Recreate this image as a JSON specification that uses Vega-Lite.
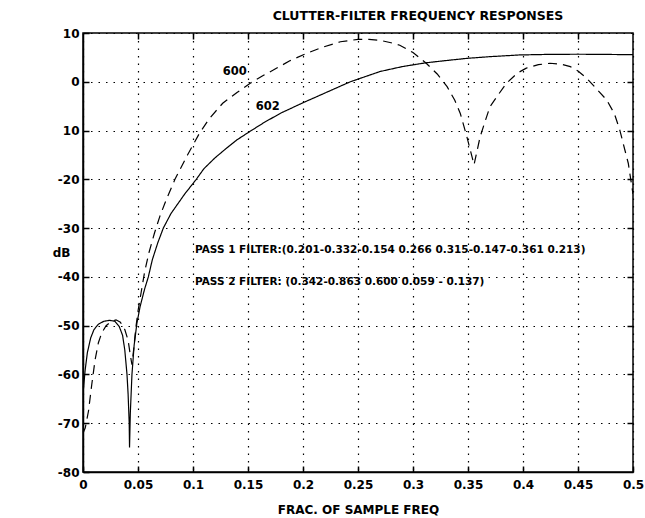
{
  "$schema": "https://vega.github.io/schema/vega-lite/v6.json",
  "width": 550,
  "height": 439,
  "autosize": {"type": "none"},
  "padding": {"left": 83, "top": 33, "right": 12, "bottom": 46},
  "background": "white",
  "config": {
    "view": {"stroke": "black", "strokeWidth": 1.5},
    "font": "DejaVu Sans",
    "axis": {
      "domainColor": "black", "domainWidth": 1.5,
      "tickColor": "black", "tickWidth": 1.5, "tickSize": -6,
      "labelColor": "black", "labelFont": "DejaVu Sans", "labelFontWeight": "bold", "labelFontSize": 12,
      "titleColor": "black", "titleFont": "DejaVu Sans", "titleFontWeight": "bold", "titleFontSize": 12,
      "gridColor": "black", "gridDash": [1.5, 6], "gridWidth": 1.2, "gridOpacity": 1
    }
  },
  "title": {
    "text": "CLUTTER-FILTER FREQUENCY RESPONSES",
    "font": "DejaVu Sans", "fontSize": 12.5, "fontWeight": "bold", "color": "black",
    "anchor": "middle", "dx": 60, "offset": 5
  },
  "datasets": {
    "curves": [
      {"f": 0.0, "db": -64, "s": "602"},
      {"f": 0.002, "db": -59, "s": "602"},
      {"f": 0.004, "db": -55.5, "s": "602"},
      {"f": 0.007, "db": -52.5, "s": "602"},
      {"f": 0.010, "db": -50.8, "s": "602"},
      {"f": 0.014, "db": -49.7, "s": "602"},
      {"f": 0.019, "db": -49.1, "s": "602"},
      {"f": 0.024, "db": -48.9, "s": "602"},
      {"f": 0.029, "db": -49.1, "s": "602"},
      {"f": 0.033, "db": -50.2, "s": "602"},
      {"f": 0.036, "db": -52, "s": "602"},
      {"f": 0.038, "db": -55, "s": "602"},
      {"f": 0.040, "db": -60, "s": "602"},
      {"f": 0.041, "db": -64, "s": "602"},
      {"f": 0.042, "db": -70, "s": "602"},
      {"f": 0.0423, "db": -75, "s": "602"},
      {"f": 0.043, "db": -68, "s": "602"},
      {"f": 0.0445, "db": -60, "s": "602"},
      {"f": 0.0465, "db": -54, "s": "602"},
      {"f": 0.049, "db": -49.5, "s": "602"},
      {"f": 0.052, "db": -46, "s": "602"},
      {"f": 0.056, "db": -42.5, "s": "602"},
      {"f": 0.0594, "db": -40, "s": "602"},
      {"f": 0.063, "db": -36.5, "s": "602"},
      {"f": 0.068, "db": -33, "s": "602"},
      {"f": 0.073, "db": -30, "s": "602"},
      {"f": 0.080, "db": -27, "s": "602"},
      {"f": 0.0925, "db": -23, "s": "602"},
      {"f": 0.103, "db": -20, "s": "602"},
      {"f": 0.110, "db": -17.8, "s": "602"},
      {"f": 0.120, "db": -15.6, "s": "602"},
      {"f": 0.130, "db": -13.7, "s": "602"},
      {"f": 0.140, "db": -11.9, "s": "602"},
      {"f": 0.153, "db": -10, "s": "602"},
      {"f": 0.165, "db": -8.3, "s": "602"},
      {"f": 0.180, "db": -6.4, "s": "602"},
      {"f": 0.200, "db": -4.3, "s": "602"},
      {"f": 0.220, "db": -2.3, "s": "602"},
      {"f": 0.243, "db": 0, "s": "602"},
      {"f": 0.270, "db": 2.1, "s": "602"},
      {"f": 0.290, "db": 3.1, "s": "602"},
      {"f": 0.312, "db": 3.9, "s": "602"},
      {"f": 0.330, "db": 4.35, "s": "602"},
      {"f": 0.349, "db": 4.8, "s": "602"},
      {"f": 0.370, "db": 5.15, "s": "602"},
      {"f": 0.397, "db": 5.5, "s": "602"},
      {"f": 0.420, "db": 5.6, "s": "602"},
      {"f": 0.450, "db": 5.65, "s": "602"},
      {"f": 0.480, "db": 5.6, "s": "602"},
      {"f": 0.500, "db": 5.55, "s": "602"},
      {"f": 0.0, "db": -72, "s": "600"},
      {"f": 0.002, "db": -71, "s": "600"},
      {"f": 0.005, "db": -67.5, "s": "600"},
      {"f": 0.008, "db": -62, "s": "600"},
      {"f": 0.011, "db": -57, "s": "600"},
      {"f": 0.014, "db": -53.5, "s": "600"},
      {"f": 0.017, "db": -51.5, "s": "600"},
      {"f": 0.021, "db": -50, "s": "600"},
      {"f": 0.026, "db": -49.1, "s": "600"},
      {"f": 0.030, "db": -48.8, "s": "600"},
      {"f": 0.034, "db": -49.3, "s": "600"},
      {"f": 0.038, "db": -50.8, "s": "600"},
      {"f": 0.041, "db": -53, "s": "600"},
      {"f": 0.043, "db": -56, "s": "600"},
      {"f": 0.0445, "db": -58, "s": "600"},
      {"f": 0.046, "db": -55, "s": "600"},
      {"f": 0.048, "db": -50.5, "s": "600"},
      {"f": 0.050, "db": -47, "s": "600"},
      {"f": 0.053, "db": -43, "s": "600"},
      {"f": 0.056, "db": -39, "s": "600"},
      {"f": 0.060, "db": -35, "s": "600"},
      {"f": 0.065, "db": -31, "s": "600"},
      {"f": 0.070, "db": -27.5, "s": "600"},
      {"f": 0.076, "db": -24, "s": "600"},
      {"f": 0.0836, "db": -20, "s": "600"},
      {"f": 0.095, "db": -15, "s": "600"},
      {"f": 0.106, "db": -10.5, "s": "600"},
      {"f": 0.115, "db": -7.5, "s": "600"},
      {"f": 0.127, "db": -4.4, "s": "600"},
      {"f": 0.140, "db": -2.2, "s": "600"},
      {"f": 0.152, "db": -0.3, "s": "600"},
      {"f": 0.163, "db": 1.2, "s": "600"},
      {"f": 0.173, "db": 2.4, "s": "600"},
      {"f": 0.188, "db": 4.3, "s": "600"},
      {"f": 0.203, "db": 5.8, "s": "600"},
      {"f": 0.218, "db": 7.1, "s": "600"},
      {"f": 0.234, "db": 8.2, "s": "600"},
      {"f": 0.250, "db": 8.7, "s": "600"},
      {"f": 0.260, "db": 8.7, "s": "600"},
      {"f": 0.270, "db": 8.5, "s": "600"},
      {"f": 0.280, "db": 8.0, "s": "600"},
      {"f": 0.288, "db": 7.5, "s": "600"},
      {"f": 0.300, "db": 6.0, "s": "600"},
      {"f": 0.312, "db": 3.8, "s": "600"},
      {"f": 0.322, "db": 1.6, "s": "600"},
      {"f": 0.331, "db": -1.0, "s": "600"},
      {"f": 0.338, "db": -3.8, "s": "600"},
      {"f": 0.343, "db": -6.5, "s": "600"},
      {"f": 0.349, "db": -11.3, "s": "600"},
      {"f": 0.3555, "db": -17, "s": "600"},
      {"f": 0.361, "db": -11.3, "s": "600"},
      {"f": 0.366, "db": -7.8, "s": "600"},
      {"f": 0.370, "db": -5.1, "s": "600"},
      {"f": 0.378, "db": -2.5, "s": "600"},
      {"f": 0.385, "db": -0.3, "s": "600"},
      {"f": 0.395, "db": 1.8, "s": "600"},
      {"f": 0.403, "db": 2.8, "s": "600"},
      {"f": 0.414, "db": 3.5, "s": "600"},
      {"f": 0.4245, "db": 3.8, "s": "600"},
      {"f": 0.435, "db": 3.6, "s": "600"},
      {"f": 0.443, "db": 3.1, "s": "600"},
      {"f": 0.450, "db": 2.2, "s": "600"},
      {"f": 0.458, "db": 0.7, "s": "600"},
      {"f": 0.467, "db": -1.5, "s": "600"},
      {"f": 0.476, "db": -3.7, "s": "600"},
      {"f": 0.483, "db": -6.5, "s": "600"},
      {"f": 0.488, "db": -9.9, "s": "600"},
      {"f": 0.4957, "db": -16.7, "s": "600"},
      {"f": 0.500, "db": -23, "s": "600"}
    ],
    "curveLabels": [
      {"f": 0.138, "db": 2.1, "t": "600"},
      {"f": 0.168, "db": -5.1, "t": "602"}
    ],
    "notes": [
      {"f": 0.1018, "db": -34.5, "t": "PASS 1 FILTER:(0.201-0.332-0.154 0.266 0.315-0.147-0.361 0.213)"},
      {"f": 0.1018, "db": -41.0, "t": "PASS 2 FILTER: (0.342-0.863 0.600 0.059 - 0.137)"}
    ]
  },
  "layer": [
    {
      "data": {"name": "curves"},
      "mark": {"type": "line", "color": "black", "strokeWidth": 1.2, "clip": true},
      "encoding": {
        "x": {
          "field": "f", "type": "quantitative",
          "scale": {"domain": [0, 0.5], "nice": false, "zero": false},
          "axis": {
            "values": [0, 0.05, 0.1, 0.15, 0.2, 0.25, 0.3, 0.35, 0.4, 0.45, 0.5],
            "format": "~g", "labelPadding": 13, "labelFlush": false,
            "title": "FRAC. OF SAMPLE FREQ", "titlePadding": 14, "grid": true
          }
        },
        "y": {
          "field": "db", "type": "quantitative",
          "scale": {"domain": [-80, 10], "nice": false, "zero": false},
          "axis": {
            "values": [-80, -70, -60, -50, -40, -30, -20, -10, 0, 10],
            "labelExpr": "datum.value == -10 ? '10' : (datum.value < 0 ? '-' + abs(datum.value) : '' + datum.value)",
            "labelPadding": 10, "labelFlush": false, "grid": true,
            "title": "dB", "titleAngle": 0, "titleX": -22, "titleY": 219,
            "titleAlign": "center", "titleBaseline": "middle"
          }
        },
        "detail": {"field": "s"},
        "strokeDash": {
          "field": "s", "type": "nominal",
          "scale": {"domain": ["602", "600"], "range": [[1, 0], [9, 6]]},
          "legend": null
        }
      }
    },
    {
      "data": {"name": "curveLabels"},
      "mark": {"type": "text", "font": "DejaVu Sans", "fontWeight": "bold", "fontSize": 11.5, "color": "black", "align": "center", "baseline": "middle"},
      "encoding": {
        "x": {"field": "f", "type": "quantitative",
          "axis": {"orient": "top", "labels": false, "title": null, "grid": false, "domain": false,
            "values": [0.05, 0.1, 0.15, 0.2, 0.25, 0.3, 0.35, 0.4, 0.45]}},
        "y": {"field": "db", "type": "quantitative",
          "axis": {"orient": "right", "labels": false, "title": null, "grid": false, "domain": false,
            "values": [-70, -60, -50, -40, -30, -20, -10, 0]}},
        "text": {"field": "t"}
      }
    },
    {
      "data": {"name": "notes"},
      "mark": {"type": "text", "font": "DejaVu Sans", "fontWeight": "bold", "fontSize": 10.5, "color": "black", "align": "left", "baseline": "middle"},
      "encoding": {
        "x": {"field": "f", "type": "quantitative", "axis": null},
        "y": {"field": "db", "type": "quantitative", "axis": null},
        "text": {"field": "t"}
      }
    }
  ],
  "resolve": {"axis": {"x": "independent", "y": "independent"}}
}
